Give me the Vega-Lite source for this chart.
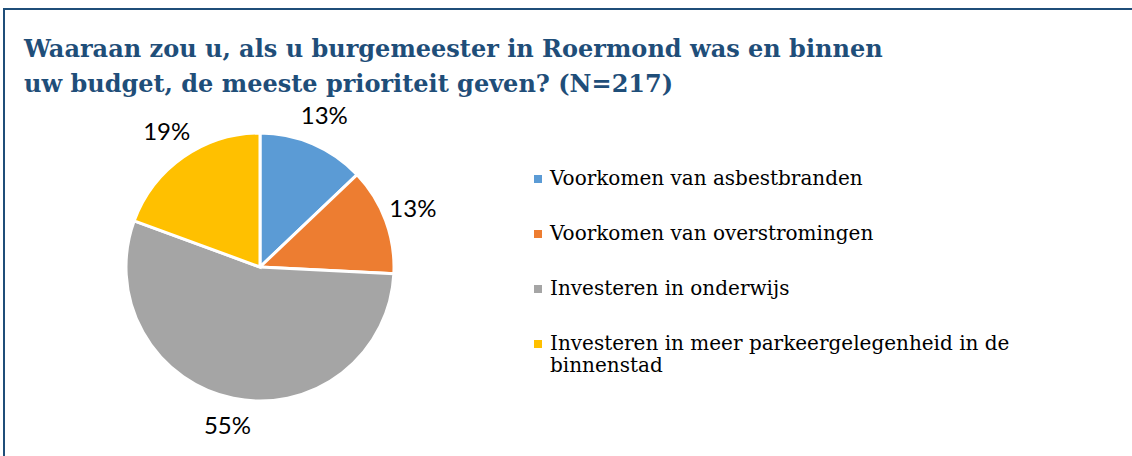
{
  "$schema": "https://vega.github.io/schema/vega-lite/v6.json",
  "width": 1200,
  "height": 500,
  "autosize": "none",
  "padding": {"left": 4, "top": 9, "right": 0, "bottom": 0},
  "background": "white",
  "view": {"stroke": "#1F4E79", "strokeWidth": 2, "fill": "white"},
  "title": {
    "text": ["Waaraan zou u, als u burgemeester in Roermond was en binnen", "uw budget, de meeste prioriteit geven? (N=217)"],
    "anchor": "start",
    "frame": "group",
    "orient": "top",
    "offset": -112,
    "dx": 20,
    "font": "DejaVu Serif",
    "fontSize": 24,
    "fontWeight": "bold",
    "color": "#1F4E79",
    "lineHeight": 35,
    "baseline": "bottom"
  },
  "data": {
    "values": [
      {"categorie": "Voorkomen van asbestbranden", "rang": 1, "aandeel": 0.129},
      {"categorie": "Voorkomen van overstromingen", "rang": 2, "aandeel": 0.129},
      {"categorie": "Investeren in onderwijs", "rang": 3, "aandeel": 0.548},
      {"categorie": "Investeren in meer parkeergelegenheid in de binnenstad", "rang": 4, "aandeel": 0.194}
    ]
  },
  "encoding": {
    "theta": {"field": "aandeel", "type": "quantitative", "stack": true},
    "order": {"field": "rang", "type": "quantitative"}
  },
  "layer": [
    {
      "mark": {"type": "arc", "x": 256, "y": 258, "outerRadius": 134, "stroke": "white", "strokeWidth": 3},
      "encoding": {
        "color": {
          "field": "categorie",
          "type": "nominal",
          "sort": ["Voorkomen van asbestbranden", "Voorkomen van overstromingen", "Investeren in onderwijs", "Investeren in meer parkeergelegenheid in de binnenstad"],
          "scale": {
            "domain": ["Voorkomen van asbestbranden", "Voorkomen van overstromingen", "Investeren in onderwijs", "Investeren in meer parkeergelegenheid in de binnenstad"],
            "range": ["#5B9BD5", "#ED7D31", "#A5A5A5", "#FFC000"]
          },
          "legend": {
            "orient": "none",
            "legendX": 524,
            "legendY": 160,
            "title": null,
            "symbolType": "square",
            "symbolSize": 64,
            "symbolStrokeWidth": 0,
            "labelFont": "DejaVu Serif",
            "labelFontSize": 20,
            "labelColor": "#000000",
            "labelOffset": 2,
            "labelLimit": 600,
            "rowPadding": 35,
            "labelBaseline": "middle",
            "labelExpr": "datum.label == 'Investeren in meer parkeergelegenheid in de binnenstad' ? ['Investeren in meer parkeergelegenheid in de', 'binnenstad'] : datum.label"
          }
        }
      }
    },
    {
      "mark": {"type": "text", "x": 256, "y": 258, "radius": 163, "font": "Lato", "fontSize": 24, "color": "#000000"},
      "encoding": {
        "text": {"field": "aandeel", "type": "quantitative", "format": ".0%"}
      }
    }
  ]
}
